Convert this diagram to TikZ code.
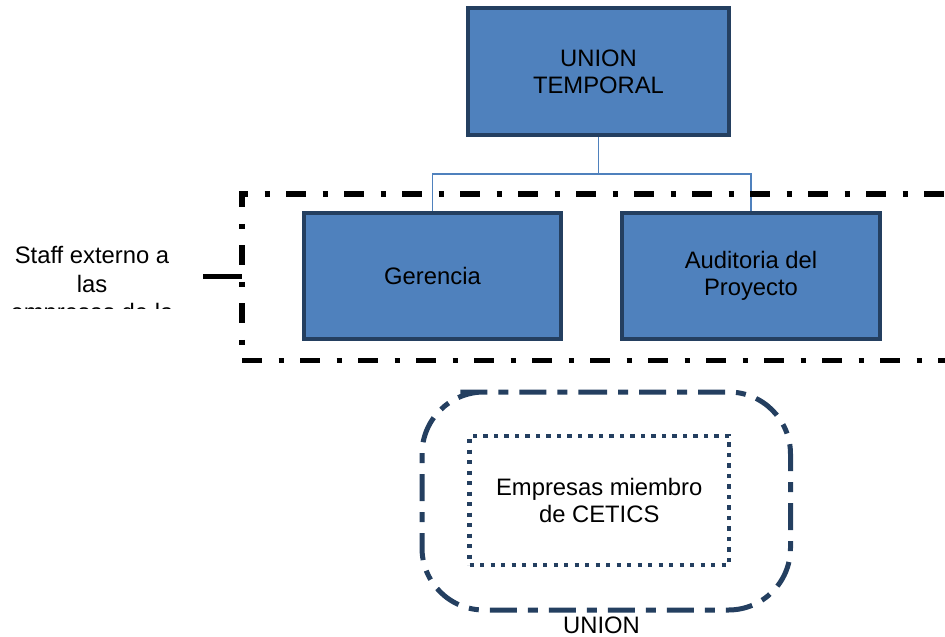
\documentclass[tikz,border=0pt]{standalone}
\usepackage{fontspec}
\setmainfont{Liberation Sans}
\definecolor{boxfill}{HTML}{4F81BD}
\definecolor{boxline}{HTML}{243F60}
\begin{document}
\begin{tikzpicture}[x=1pt,y=-1pt,
  font=\fontsize{23.8}{27.2}\selectfont,
  orgbox/.style={draw=boxline, line width=4pt, fill=boxfill, align=center, inner sep=0pt},
  conn/.style={draw=boxfill, line width=1.5pt},
  staffbox/.style={inner sep=0pt, outer sep=0pt},
  staffdash/.style={draw=black, line width=5.5pt, dash pattern=on 20pt off 16.5pt on 5pt off 16.5pt},
  staffline/.style={draw=black, line width=4.5pt},
  plain/.style={inner sep=0pt, align=center},
  unionpath/.style={draw=boxline, line width=5pt, rounded corners=62pt, dash pattern=on 27pt off 11pt on 10pt off 11pt},
  memberbox/.style={draw=boxline, line width=4.6pt, dash pattern=on 4.3pt off 6.2pt, align=center, inner sep=0pt}
]
\useasboundingbox (0,0) rectangle (945,637);
\clip (0,0) rectangle (945,637);

% top level
\node[orgbox, minimum width=261pt, minimum height=127pt] (top) at (598.5,71.5) {UNION\\TEMPORAL};
\node[orgbox, minimum width=257pt, minimum height=126pt] (ger) at (432.5,276) {Gerencia};
\node[orgbox, minimum width=258pt, minimum height=126pt] (aud) at (751,276) {Auditoria del\\Proyecto};

% connectors
\draw[conn] (top.south) -- ++(0,37) coordinate (split) -| (ger.north);
\draw[conn] (split) -| (aud.north);

% staff group (dash-dot frame, right side runs off the picture)
\node[staffbox, minimum width=718pt, minimum height=166.5pt] (staff) at (601,277.25) {};
\draw[staffdash, dash phase=4pt] ([yshift=2.75pt]staff.north west) -- (staff.south west);
\draw[staffdash, dash phase=11.25pt] ([xshift=-2.75pt]staff.north west) -- (staff.north east);
\draw[staffdash] (staff.south west) -- (staff.south east);
\coordinate (stafftip) at (203,276.7);
\draw[staffline] (stafftip) -- (stafftip -| staff.west);

\begin{scope}
\clip (0,0) rectangle (200,308);
\node[plain, anchor=north, font=\fontsize{23.8}{28.4}\selectfont] (stafftext) at (92,246.3) {Staff externo a\\las\\empresas de la};
\end{scope}

% union members
\draw[unionpath] (518,392) -| (790.5,610) -| (422,392) -- cycle;
\node[memberbox, minimum width=259.5pt, minimum height=129pt] (members) at (599.25,500.5) {Empresas miembro\\de CETICS};
\node[plain, anchor=base] (unionlabel) at (601.5,633.5) {UNION};
\end{tikzpicture}
\end{document}
